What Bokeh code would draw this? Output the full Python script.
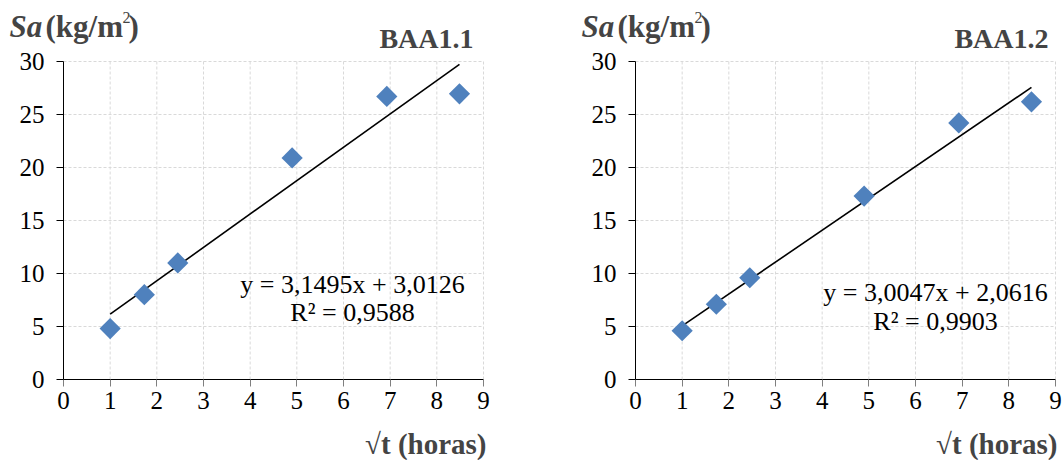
import math
import numpy as np
from bokeh.plotting import figure
from bokeh.layouts import row
from bokeh.models import Label, FixedTicker, LinearAxis
from bokeh.embed import file_html
from bokeh.resources import INLINE

# ---- data ----
sqrt_t = [1.0, 1.732, 2.449, 4.899, 6.928, 8.485]
sa_baa11 = [4.8, 8.0, 11.0, 20.9, 26.7, 26.95]
sa_baa12 = [4.6, 7.1, 9.6, 17.3, 24.2, 26.2]
titles = ["BAA1.1", "BAA1.2"]
slopes = [3.1495, 3.0047]
intercepts = [3.0126, 2.0616]
eq_texts = ["y = 3,1495x + 3,0126", "y = 3,0047x + 2,0616"]
r2_texts = ["R\u00b2 = 0,9588", "R\u00b2 = 0,9903"]
x_ticks = [0, 1, 2, 3, 4, 5, 6, 7, 8, 9]
y_ticks = [0, 5, 10, 15, 20, 25, 30]

SERIF = "Liberation Serif"
BLUE = "#4F81BD"

H = 460
FRAME_W = 420
FRAME_TOP = 61
FRAME_BOTTOM = 379
UX = FRAME_W / 9.0                      # px per x unit
UY = (FRAME_BOTTOM - FRAME_TOP) / 30.0  # px per y unit
BASE_SHIFT = 10                          # alphabetic baseline correction (px)


def make_panel(ys, title, slope, intercept, eq, r2, width, left, eq_px, title_px, xlab_px):
    def dx(px):
        return (px - left) / UX

    def dy(py):
        return (FRAME_BOTTOM - py) / UY

    def dyb(py):
        return dy(py - BASE_SHIFT)

    p = figure(width=width, height=H,
               x_range=(dx(0), dx(width)), y_range=(dy(H), dy(0)),
               x_axis_type=None, y_axis_type=None,
               output_backend="svg", toolbar_location=None,
               min_border_left=0, min_border_right=0,
               min_border_top=0, min_border_bottom=0)
    p.outline_line_color = None
    p.xgrid.visible = False
    p.ygrid.visible = False
    p.background_fill_color = "white"
    p.border_fill_color = "white"

    # dashed gridlines inside the 0..9 x 0..30 area
    gx = [t for t in x_ticks if t != 0]
    gy = [t for t in y_ticks if t != 0]
    p.segment(x0=gx, y0=[y_ticks[0]] * len(gx), x1=gx, y1=[y_ticks[-1]] * len(gx),
              line_color="#d9d9d9", line_dash="3 2", line_width=1)
    p.segment(x0=[x_ticks[0]] * len(gy), y0=gy, x1=[x_ticks[-1]] * len(gy), y1=gy,
              line_color="#d9d9d9", line_dash="3 2", line_width=1)

    # axes pinned at 0
    xa = LinearAxis(fixed_location=0, bounds=(x_ticks[0], x_ticks[-1]),
                    ticker=FixedTicker(ticks=x_ticks))
    ya = LinearAxis(fixed_location=0, bounds=(y_ticks[0], y_ticks[-1]),
                    ticker=FixedTicker(ticks=y_ticks))
    for ax in (xa, ya):
        ax.axis_line_color = "black"
        ax.axis_line_width = 1
        ax.major_tick_in = 0
        ax.major_tick_out = 7
        ax.minor_tick_line_color = None
        ax.major_label_text_font = SERIF
        ax.major_label_text_font_size = "25px"
        ax.major_label_text_color = "black"
    xa.major_tick_line_color = "#7f7f7f"
    ya.major_tick_line_color = "black"
    xa.major_label_standoff = 5
    ya.major_label_standoff = 12
    p.add_layout(xa, "below")
    p.add_layout(ya, "left")

    # trend line
    xs = np.array([min(sqrt_t), max(sqrt_t)])
    p.line(xs, slope * xs + intercept, line_color="black", line_width=1.6)

    # points
    p.scatter(sqrt_t, ys, marker="square", angle=math.pi / 4, size=15,
              fill_color=BLUE, line_color=None)

    # equation
    ex, ey1, ey2 = eq_px
    p.add_layout(Label(x=dx(ex), y=dy(ey1), text=eq, text_font=SERIF, text_font_size="26px",
                       text_align="center", text_baseline="middle", text_color="black"))
    p.add_layout(Label(x=dx(ex), y=dy(ey2), text=r2, text_font=SERIF, text_font_size="26px",
                       text_align="center", text_baseline="middle", text_color="black"))

    # y-axis title: Sa (kg/m2)
    sx = left - 54
    p.add_layout(Label(x=dx(sx), y=dyb(36), text="Sa", text_font=SERIF,
                       text_font_size="31px", text_font_style="bold italic",
                       text_align="left", text_baseline="alphabetic"))
    p.add_layout(Label(x=dx(sx + 36), y=dyb(36), text="(kg/m", text_font=SERIF,
                       text_font_size="31px", text_font_style="bold",
                       text_align="left", text_baseline="alphabetic"))
    p.add_layout(Label(x=dx(sx + 113), y=dyb(27), text="2", text_font=SERIF,
                       text_font_size="16px", text_align="left",
                       text_baseline="alphabetic"))
    p.add_layout(Label(x=dx(sx + 119), y=dyb(36), text=")", text_font=SERIF,
                       text_font_size="31px", text_font_style="bold",
                       text_align="left", text_baseline="alphabetic"))

    # chart title
    p.add_layout(Label(x=dx(title_px), y=dyb(48), text=title, text_font=SERIF,
                       text_font_size="28px", text_font_style="bold",
                       text_align="right", text_baseline="alphabetic"))

    # x-axis title
    p.add_layout(Label(x=dx(xlab_px), y=dyb(453), text="\u221at (horas)",
                       text_font=SERIF, text_font_size="29px", text_font_style="bold",
                       text_align="right", text_baseline="alphabetic"))
    return p


p1 = make_panel(sa_baa11, titles[0], slopes[0], intercepts[0], eq_texts[0], r2_texts[0],
                568, 63, (352, 284, 312), 473, 486)
p2 = make_panel(sa_baa12, titles[1], slopes[1], intercepts[1], eq_texts[1], r2_texts[1],
                495, 67, (367, 292, 321), 480, 489)

layout = row(p1, p2)
open("out.html", "w").write(file_html(layout, INLINE))
